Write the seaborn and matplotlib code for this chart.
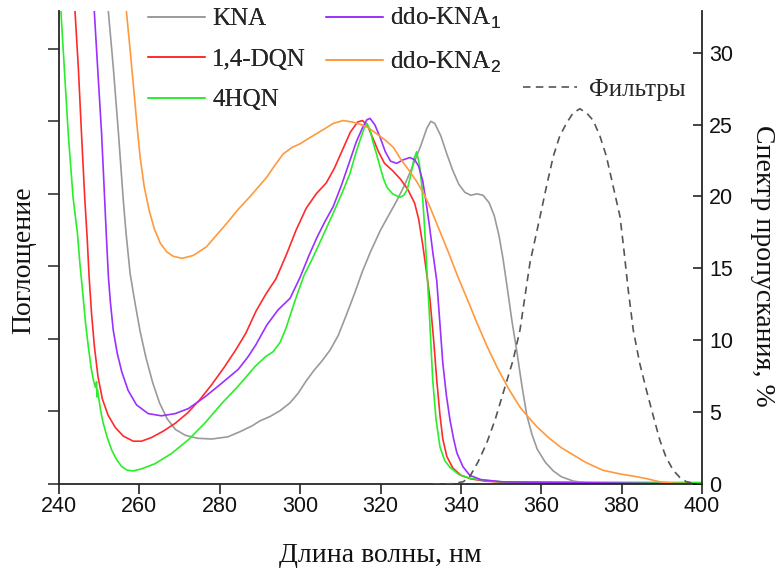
import numpy as np
import pandas as pd
import matplotlib
matplotlib.use("Agg")
import matplotlib.pyplot as plt
import seaborn as sns
from matplotlib.lines import Line2D

# ---------------- data ----------------
kna_x = [252.0, 252.3, 253.5, 254.8, 256.0, 256.7, 257.7, 258.9, 260.2, 261.6, 263.3, 265.0,
         266.9, 269.0, 271.5, 274.5, 278.0, 282.0, 285.0, 288.0, 290.0, 292.5, 295.0, 297.5,
         299.5, 301.5, 303.5, 305.5, 307.5, 309.5, 311.5, 313.5, 315.5, 317.5, 320.0, 322.0,
         324.0, 326.0, 328.0, 330.0, 331.5, 332.5, 333.5, 335.0, 336.5, 338.0, 339.5, 341.0,
         342.5, 344.0, 345.5, 347.0, 348.3, 349.5, 350.5, 351.5, 352.7, 354.0, 355.2, 356.4,
         357.7, 359.0, 361.0, 363.0, 365.0, 368.0, 372.0, 400.0]
kna_y = [6.9, 6.5, 5.75, 4.83, 3.91, 3.45, 2.90, 2.50, 2.10, 1.75, 1.40, 1.12,
         0.90, 0.75, 0.67, 0.63, 0.62, 0.65, 0.72, 0.80, 0.87, 0.93, 1.01, 1.12,
         1.25, 1.42, 1.57, 1.70, 1.85, 2.05, 2.33, 2.62, 2.93, 3.20, 3.50, 3.70,
         3.90, 4.12, 4.38, 4.66, 4.90, 5.00, 4.97, 4.80, 4.55, 4.32, 4.13, 4.02,
         3.98, 4.00, 3.98, 3.88, 3.70, 3.42, 3.10, 2.72, 2.25, 1.80, 1.35, 0.95,
         0.68, 0.48, 0.30, 0.18, 0.10, 0.04, 0.01, 0.0]

dqn_x = [243.6, 244.0, 244.8, 245.6, 246.4, 247.0, 247.5, 248.1, 248.8, 249.7, 250.8, 252.2,
         254.0, 256.0, 258.5, 260.5, 263.0, 266.0, 269.0, 272.0, 275.0, 278.0, 281.0, 284.0,
         286.5, 289.0, 291.5, 294.0, 296.5, 299.0, 301.5, 304.0, 306.5, 308.5, 310.5, 312.5,
         314.3, 315.5, 316.7, 318.0, 319.5, 321.0, 323.0, 325.0, 326.8, 328.5, 329.5, 330.5,
         331.5, 332.3, 333.2, 334.0, 334.8, 335.5, 336.5, 338.0, 340.0, 342.5, 346.0, 352.0, 400.0]
dqn_y = [6.9, 6.5, 5.75, 4.83, 3.95, 3.40, 2.85, 2.35, 1.90, 1.48, 1.17, 0.95,
         0.78, 0.66, 0.59, 0.59, 0.64, 0.73, 0.84, 0.98, 1.16, 1.37, 1.60, 1.85,
         2.08, 2.38, 2.62, 2.83, 3.15, 3.50, 3.80, 4.00, 4.15, 4.35, 4.60, 4.85,
         4.99, 5.01, 4.95, 4.78, 4.58, 4.42, 4.32, 4.20, 4.06, 3.87, 3.65, 3.30,
         2.90, 2.55, 2.00, 1.43, 0.95, 0.62, 0.38, 0.22, 0.12, 0.07, 0.04, 0.02, 0.0]

hqn_x = [240.3, 240.5, 241.3, 242.3, 243.5, 244.6, 245.2, 246.0, 246.6, 247.3, 248.0, 248.6,
         249.1, 249.35, 249.45, 249.55, 249.9, 250.4, 251.0, 252.0, 253.1, 254.3, 255.6, 257.0,
         258.5, 260.6, 263.9, 268.0, 272.2, 276.3, 280.5, 284.6, 288.8, 291.5, 293.2, 295.0,
         296.5, 298.2, 299.5, 301.0, 303.0, 305.5, 308.2, 310.5, 312.4, 313.8, 314.9, 315.9,
         316.6, 317.4, 318.1, 319.0, 319.9, 320.8, 321.6, 323.0, 324.8, 325.8, 326.6, 327.5,
         328.3, 329.0, 329.7, 330.3, 330.9, 331.5, 332.2, 333.0, 333.8, 334.8, 336.0, 337.3,
         339.5, 342.2, 346.0, 350.0, 400.0]
hqn_y = [6.9, 6.5, 5.75, 4.83, 3.95, 3.45, 3.04, 2.58, 2.22, 1.89, 1.60, 1.42,
         1.33, 1.41, 1.20, 1.30, 1.18, 1.00, 0.84, 0.64, 0.47, 0.34, 0.24, 0.19,
         0.18, 0.21, 0.28, 0.42, 0.61, 0.84, 1.11, 1.35, 1.62, 1.76, 1.82, 1.95,
         2.15, 2.44, 2.65, 2.88, 3.10, 3.40, 3.73, 4.02, 4.28, 4.55, 4.74, 4.90,
         4.97, 4.88, 4.72, 4.55, 4.37, 4.20, 4.09, 4.00, 3.95, 3.98, 4.05, 4.25,
         4.48, 4.58, 4.40, 4.10, 3.60, 3.00, 2.30, 1.43, 0.90, 0.51, 0.32, 0.23,
         0.13, 0.08, 0.05, 0.03, 0.02]

ddo1_x = [248.4, 248.8, 249.6, 250.6, 251.3, 251.8, 252.3, 252.8, 253.5, 254.5, 255.6, 257.2,
          259.3, 262.2, 265.5, 268.9, 272.2, 276.3, 280.5, 284.6, 287.0, 289.0, 291.7, 294.5,
          297.5, 300.0, 302.2, 304.2, 306.2, 308.2, 310.3, 312.4, 314.0, 315.6, 316.6, 317.4,
          318.6, 319.9, 321.2, 322.5, 324.0, 325.7, 327.3, 328.5, 329.5, 330.5, 331.3, 332.2,
          333.0, 334.0, 334.8, 335.5, 336.4, 337.3, 338.2, 339.0, 340.5, 342.2, 345.0, 350.4, 400.0]
ddo1_y = [6.9, 6.5, 5.75, 4.83, 4.00, 3.40, 2.85, 2.50, 2.12, 1.80, 1.55, 1.29,
          1.09, 0.97, 0.94, 0.97, 1.04, 1.20, 1.39, 1.58, 1.75, 1.92, 2.19, 2.40,
          2.56, 2.85, 3.15, 3.40, 3.62, 3.82, 4.12, 4.46, 4.72, 4.92, 5.02, 5.04,
          4.95, 4.78, 4.58, 4.45, 4.42, 4.47, 4.50, 4.47, 4.38, 4.18, 3.90, 3.55,
          3.20, 2.80, 2.20, 1.67, 1.22, 0.88, 0.62, 0.43, 0.24, 0.12, 0.06, 0.03, 0.0]

ddo2_x = [256.4, 256.8, 257.7, 258.5, 259.4, 260.2, 261.2, 262.4, 263.7, 265.2, 266.8, 268.4,
          270.6, 273.4, 276.7, 279.5, 281.7, 284.5, 287.5, 289.7, 291.7, 293.8, 295.8, 298.0,
          300.0, 302.0, 304.1, 306.2, 308.2, 310.7, 313.0, 314.9, 317.0, 319.0, 321.2, 323.2,
          325.0, 327.0, 329.0, 330.8, 332.3, 334.8, 337.0, 339.3, 341.5, 344.0, 346.5, 349.0,
          351.8, 354.7, 356.8, 358.9, 362.0, 365.0, 367.1, 371.0, 375.3, 379.5, 383.8, 386.5,
          389.5, 393.0, 400.0]
ddo2_y = [6.9, 6.5, 5.98, 5.5, 4.95, 4.5, 4.1, 3.78, 3.52, 3.32, 3.20, 3.14,
          3.11, 3.15, 3.27, 3.45, 3.59, 3.78, 3.96, 4.10, 4.23, 4.40, 4.55, 4.64,
          4.69, 4.76, 4.83, 4.90, 4.97, 5.01, 4.99, 4.96, 4.91, 4.83, 4.74, 4.64,
          4.48, 4.33, 4.17, 4.00, 3.82, 3.48, 3.18, 2.85, 2.56, 2.22, 1.90, 1.61,
          1.32, 1.06, 0.92, 0.79, 0.63, 0.50, 0.43, 0.30, 0.19, 0.14, 0.10, 0.07,
          0.03, 0.01, 0.0]

filt_x = [333.0, 338.1, 340.6, 342.2, 344.3, 346.4, 348.5, 350.5, 353.0, 354.7, 355.6, 357.2,
          359.7, 361.3, 363.0, 364.6, 366.3, 367.9, 369.6, 371.3, 372.9, 374.6, 376.2, 377.9,
          379.6, 380.6, 381.6, 382.9, 384.5, 386.2, 388.0, 389.5, 391.0, 392.8, 394.5, 396.1,
          398.0, 400.0]
filt_y = [0.0, 0.02, 0.16, 0.51, 1.55, 2.83, 4.45, 6.31, 8.63, 10.7, 12.4, 15.4,
          18.6, 20.7, 22.8, 24.2, 25.1, 25.8, 26.1, 25.8, 25.3, 24.2, 22.8, 20.7,
          18.6, 16.2, 13.6, 10.7, 8.4, 6.5, 4.6, 3.06, 1.9, 0.97, 0.45, 0.16,
          0.04, 0.0]

series_names = ["KNA", "1,4-DQN", "4HQN", "ddo-KNA$_1$", "ddo-KNA$_2$"]
series_colors = ["#9a9a9a", "#ff2b2b", "#2aee2a", "#9b30ff", "#ff9a3c"]
filter_name = "Фильтры"
xlabel = "Длина волны, нм"
ylabel_left = "Поглощение"
ylabel_right = "Спектр пропускания, %"
xticks = [240, 260, 280, 300, 320, 340, 360, 380, 400]
rticks = [0, 5, 10, 15, 20, 25, 30]

# ---------------- style ----------------
sns.set_style("ticks")
plt.rcParams["font.family"] = ["Liberation Sans", "DejaVu Sans"]
plt.rcParams["mathtext.fontset"] = "custom"
plt.rcParams["mathtext.rm"] = "Liberation Sans"
plt.rcParams["mathtext.it"] = "Liberation Sans:italic"
serif = ["Liberation Serif", "DejaVu Serif"]

fig = plt.figure(figsize=(7.81, 5.73), dpi=100)
ax = fig.add_axes([59 / 781, 1 - 484 / 573, (702 - 59) / 781, (484 - 11) / 573])
ax2 = ax.twinx()

xs = [kna_x, dqn_x, hqn_x, ddo1_x, ddo2_x]
ys = [kna_y, dqn_y, hqn_y, ddo1_y, ddo2_y]
handles = []
for name, col, x, y in zip(series_names, series_colors, xs, ys):
    df = pd.DataFrame({"x": x, "y": y})
    sns.lineplot(data=df, x="x", y="y", ax=ax, color=col, lw=1.2,
                 estimator=None, sort=False, legend=False)
    handles.append(Line2D([], [], color=col, lw=1.2))

dash = (0, (4.5, 3.2))
dff = pd.DataFrame({"x": filt_x, "y": filt_y})
sns.lineplot(data=dff, x="x", y="y", ax=ax2, color="#555555", lw=1.2,
             estimator=None, sort=False, legend=False, linestyle=dash)
fh = Line2D([], [], color="#555555", lw=1.2, linestyle=dash)

ax.set_xlim(240, 400)
ax.set_ylim(0, 6.52)
ax2.set_ylim(0, 32.9)
ax.set_xticks(xticks)
ax.set_yticks(range(0, 7))
ax.set_yticklabels([])
ax2.set_yticks(rticks)

for a in (ax, ax2):
    a.spines["top"].set_visible(False)
    for s in a.spines.values():
        s.set_linewidth(1.3)
ax.spines["right"].set_visible(False)
ax2.spines["left"].set_visible(False)
ax2.spines["bottom"].set_visible(False)

ax.tick_params(axis="x", direction="out", length=7, width=1.1, labelsize=15.5, pad=2, colors="#111111")
ax.tick_params(axis="y", direction="out", length=8, width=1.1)
ax2.tick_params(axis="y", direction="in", length=6.5, width=1.1, labelsize=15.5, pad=5, colors="#111111")

ax.set_xlabel(xlabel, family=serif, fontsize=20, color="#111111")
ax.xaxis.set_label_coords(0.5, -0.124)
ax.xaxis.label.set_va("top")
ax.set_ylabel(ylabel_left, family=serif, fontsize=20, color="#111111")
ax.yaxis.set_label_coords(-0.035, 0.474)
ax2.set_ylabel(ylabel_right, family=serif, fontsize=20, rotation=270, va="bottom", color="#111111")
ax2.yaxis.set_label_coords(1.075, 0.461)

leg = ax.legend(handles, series_names, ncol=2, loc="upper left", bbox_to_anchor=(0.138, 1.01),
                frameon=False, borderpad=0, borderaxespad=0, handlelength=2.28, handletextpad=0.3,
                labelspacing=0.72, columnspacing=0.8, prop={"family": serif, "size": 18})
ax.add_artist(leg)
ax2.legend([fh], [filter_name], loc="center right", bbox_to_anchor=(0.974, 0.833),
           frameon=False, borderpad=0, borderaxespad=0, handlelength=2.16, handletextpad=0.45,
           prop={"family": serif, "size": 18})

fig.savefig("out.png", dpi=100)
